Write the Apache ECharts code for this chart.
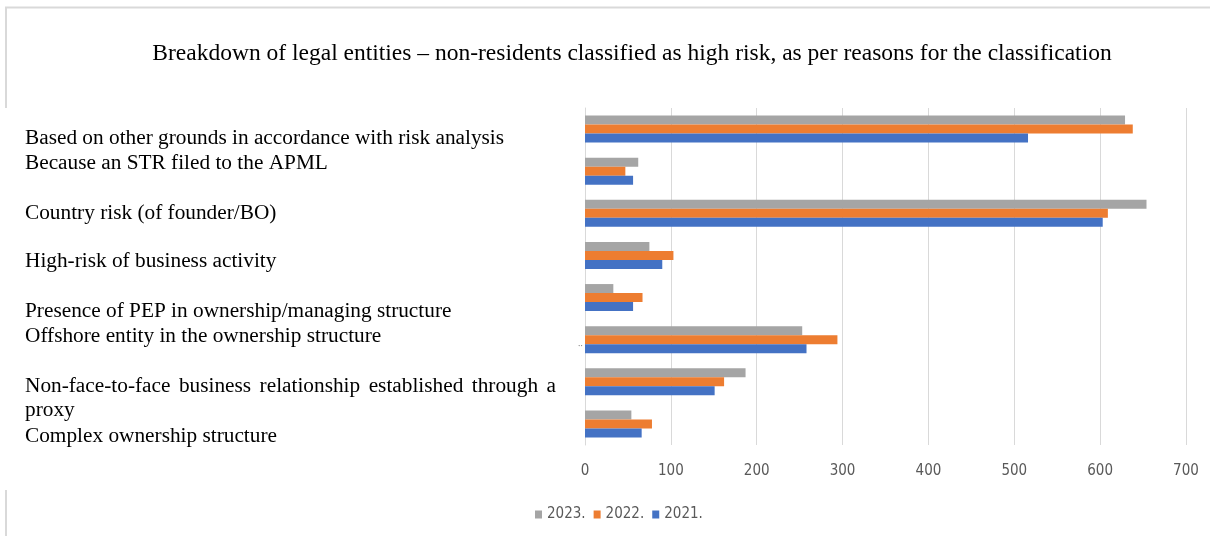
<!DOCTYPE html>
<html><head><meta charset="utf-8">
<script src="https://cdn.jsdelivr.net/npm/echarts@6/dist/echarts.min.js"></script>
<style>html,body{margin:0;padding:0;background:#fff}#c{width:1210px;height:536px}</style>
</head><body><div id="c"></div>
<script>
const titleText = "Breakdown of legal entities \u2013 non-residents classified as high risk, as per reasons for the classification";
const categories = [
  "Based on other grounds in accordance with risk analysis",
  "Because an STR filed to the APML",
  "Country risk (of founder/BO)",
  "High-risk of business activity",
  "Presence of PEP in ownership/managing structure",
  "Offshore entity in the ownership structure",
  "Non-face-to-face business relationship established through a proxy",
  "Complex ownership structure"
];
const seriesNames = ["2023.", "2022.", "2021."];
const values2023 = [629, 62, 654, 75, 33, 253, 187, 54];
const values2022 = [638, 47, 609, 103, 67, 294, 162, 78];
const values2021 = [516, 56, 603, 90, 56, 258, 151, 66];
const xMin = 0, xMax = 700, xStep = 100;
// left text block lines (as in the source picture)
const labelLines = [
  "Based on other grounds in accordance with risk analysis",
  "Because an STR filed to the APML",
  "Country risk (of founder/BO)",
  "High-risk of business activity",
  "Presence of PEP in ownership/managing structure",
  "Offshore entity in the ownership structure",
  "Non-face-to-face business relationship established through a",
  "proxy",
  "Complex ownership structure"
];

// ---- layout ----
const lineY = [138, 163, 213, 261, 311, 336, 386, 410, 436];
const justifiedLine = 6;
const textX0 = 25, textX1 = 556;
const serif = '"Liberation Serif", "Times New Roman", serif';
const fs = 21.3;
const ctx = document.createElement('canvas').getContext('2d');
ctx.font = fs + 'px ' + serif;

const graphics = [];
labelLines.forEach((ln, i) => {
  if (i === justifiedLine) {
    const words = ln.split(' ');
    const widths = words.map(w => ctx.measureText(w).width);
    const total = widths.reduce((a, b) => a + b, 0);
    const gap = (textX1 - textX0 - total) / (words.length - 1);
    let x = textX0;
    words.forEach((w, k) => {
      graphics.push({type: 'text', x: x, y: lineY[i], style: {text: w, fill: '#000', font: fs + 'px ' + serif, textVerticalAlign: 'middle'}});
      x += widths[k] + gap;
    });
  } else {
    graphics.push({type: 'text', x: textX0, y: lineY[i], style: {text: ln, fill: '#000', font: fs + 'px ' + serif, textVerticalAlign: 'middle'}});
  }
});
// frame lines
graphics.push({type: 'line', shape: {x1: 5, y1: 7.5, x2: 1210, y2: 7.5}, style: {stroke: '#d9d9d9', lineWidth: 2}});
graphics.push({type: 'line', shape: {x1: 6, y1: 7, x2: 6, y2: 108}, style: {stroke: '#d9d9d9', lineWidth: 2}});
graphics.push({type: 'line', shape: {x1: 6, y1: 490, x2: 6, y2: 536}, style: {stroke: '#d9d9d9', lineWidth: 2}});
graphics.push({type: 'text', x: 578, y: 344, style: {text: '\u2025', fill: '#888', font: '9px sans-serif', textVerticalAlign: 'middle'}});

const colors = ['#A5A5A5', '#ED7D31', '#4472C4'];
const dataSets = [values2023, values2022, values2021];
const sans = '"Liberation Sans Narrow", "DejaVu Sans Condensed", "Roboto", sans-serif';

const chart = echarts.init(document.getElementById('c'), null, {renderer: 'canvas'});
chart.setOption({
  backgroundColor: '#fff',
  animation: false,
  title: {
    text: titleText, left: 627, top: 37, textAlign: 'center',
    textStyle: {fontFamily: serif, fontSize: 23.5, fontWeight: 'normal', color: '#000'}
  },
  legend: {
    data: seriesNames, left: 530, top: 502, itemWidth: 7, itemHeight: 8, itemGap: 8,
    icon: 'rect',
    textStyle: {fontFamily: sans, fontSize: 15, color: '#595959'}
  },
  grid: {left: 585, right: 24, top: 108, bottom: 91, containLabel: false},
  xAxis: {
    type: 'value', min: xMin, max: xMax, interval: xStep,
    axisLine: {show: false}, axisTick: {show: false},
    splitLine: {lineStyle: {color: '#d9d9d9', width: 1}},
    axisLabel: {fontFamily: sans, fontSize: 15, color: '#595959', margin: 19}
  },
  yAxis: {
    type: 'category', data: categories, inverse: true,
    axisLine: {show: true, lineStyle: {color: '#d9d9d9'}}, axisTick: {show: false},
    axisLabel: {show: false}
  },
  graphic: graphics,
  series: seriesNames.map((n, i) => ({
    name: n, type: 'bar', data: dataSets[i], barWidth: 9, barGap: '0%',
    itemStyle: {color: colors[i]}
  }))
});
</script></body></html>
